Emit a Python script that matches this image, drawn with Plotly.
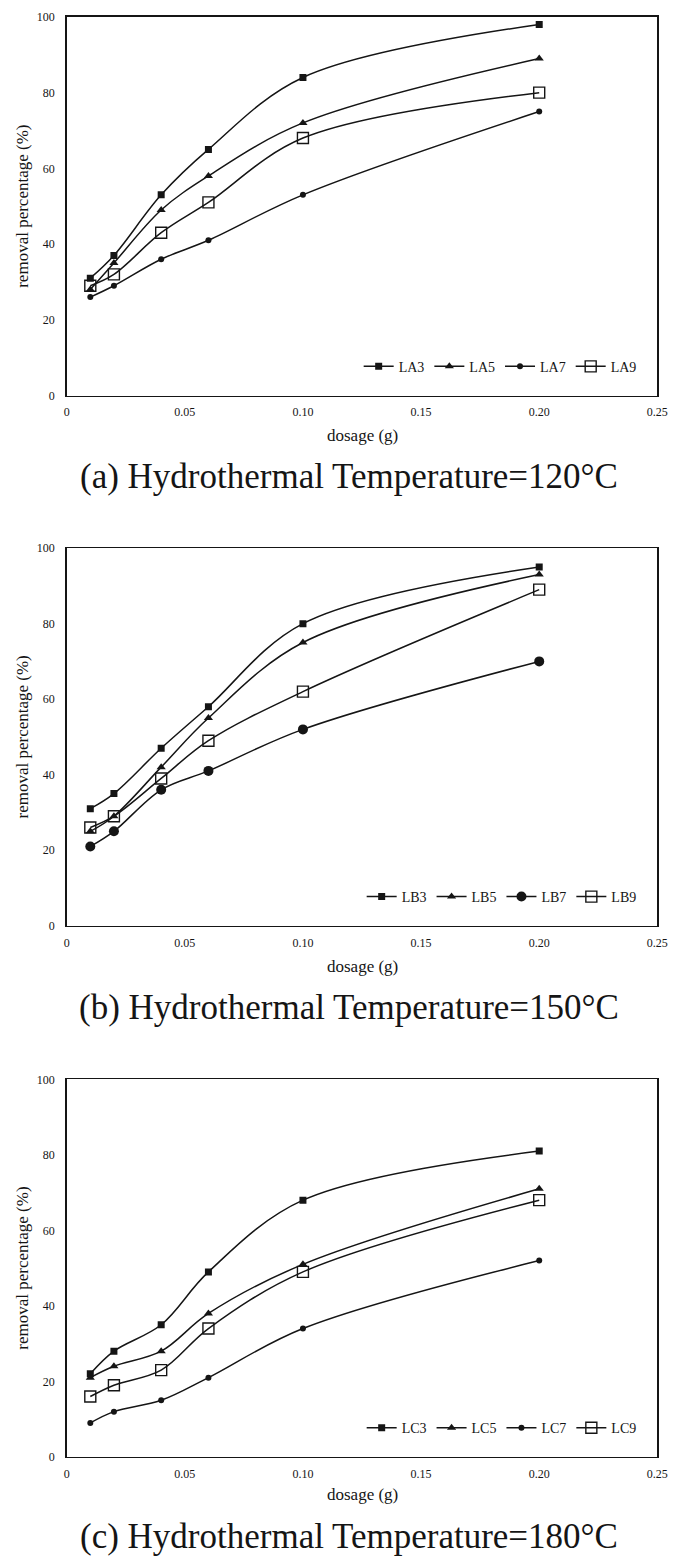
import plotly.graph_objects as go

# ---- data ----
dosage = [0.01, 0.02, 0.04, 0.06, 0.10, 0.20]

LA3 = [31, 37, 53, 65, 84, 98]
LA5 = [28, 35, 49, 58, 72, 89]
LA7 = [26, 29, 36, 41, 53, 75]
LA9 = [29, 32, 43, 51, 68, 80]

LB3 = [31, 35, 47, 58, 80, 95]
LB5 = [25, 29, 42, 55, 75, 93]
LB7 = [21, 25, 36, 41, 52, 70]
LB9 = [26, 29, 39, 49, 62, 89]

LC3 = [22, 28, 35, 49, 68, 81]
LC5 = [21, 24, 28, 38, 51, 71]
LC7 = [9, 12, 15, 21, 34, 52]
LC9 = [16, 19, 23, 34, 49, 68]

x_tickvals = [0, 0.05, 0.10, 0.15, 0.20, 0.25]
x_ticktext = ["0", "0.05", "0.10", "0.15", "0.20", "0.25"]
y_tickvals = [0, 20, 40, 60, 80, 100]

captions = ["(a) Hydrothermal Temperature=120°C",
            "(b) Hydrothermal Temperature=150°C",
            "(c) Hydrothermal Temperature=180°C"]

panels = [
    [("LA3", LA3), ("LA5", LA5), ("LA7", LA7), ("LA9", LA9)],
    [("LB3", LB3), ("LB5", LB5), ("LB7", LB7), ("LB9", LB9)],
    [("LC3", LC3), ("LC5", LC5), ("LC7", LC7), ("LC9", LC9)],
]

# ---- layout geometry (pixels) ----
W, H = 685, 1568
FONT = "Liberation Serif, Times New Roman, serif"
INK = "#151515"
x_left, x_right = 65, 668
panel_px = [(10, 392), (546, 927), (1082, 1463)]
xtitle_px = [432, 968, 1501]
caption_px = [474, 1010, 1543]
legend_px = [363, 898, 1434]

circle_sizes = [6, 10, 6]


def py(p):
    return 1 - p / H


fig = go.Figure()

for i, series in enumerate(panels):
    xa = "x" if i == 0 else f"x{i+1}"
    ya = "y" if i == 0 else f"y{i+1}"
    lg = "legend" if i == 0 else f"legend{i+1}"
    styles = [
        dict(symbol="square", size=7, color=INK),
        dict(symbol="triangle-up", size=8, color=INK),
        dict(symbol="circle", size=circle_sizes[i], color=INK),
        dict(symbol="square-open", size=11, color=INK, line=dict(width=1.4, color=INK)),
    ]
    for (name, vals), mk in zip(series, styles):
        fig.add_trace(go.Scatter(
            x=dosage, y=vals, name=name, mode="lines+markers",
            line=dict(color=INK, width=1.5, shape="spline"),
            marker=mk, xaxis=xa, yaxis=ya, legend=lg,
        ))

    top, bot = panel_px[i]
    axkw = dict(showline=True, linecolor=INK, linewidth=1.5, mirror=True,
                showgrid=False, zeroline=False, ticks="",
                tickfont=dict(family=FONT, size=12, color=INK))
    fig.update_layout(**{
        ("xaxis" if i == 0 else f"xaxis{i+1}"): dict(
            domain=[x_left / W, x_right / W], range=[0, 0.25],
            tickvals=x_tickvals, ticktext=x_ticktext,
            anchor=ya, ticklabelstandoff=5, **axkw),
        ("yaxis" if i == 0 else f"yaxis{i+1}"): dict(
            domain=[py(bot), py(top)], range=[0, 100],
            tickvals=y_tickvals, anchor=xa, ticklabelstandoff=8, **axkw),
        lg: dict(orientation="h", x=652 / W, xanchor="right",
                 y=py(legend_px[i]), yanchor="middle", xref="paper", yref="paper",
                 font=dict(family=FONT, size=14, color=INK),
                 itemwidth=30, bgcolor="rgba(0,0,0,0)", tracegroupgap=0),
    })

    # y-axis title
    fig.add_annotation(x=20 / W, y=py((top + bot) / 2), xref="paper", yref="paper",
                       text="removal percentage (%)", textangle=-90, showarrow=False,
                       font=dict(family=FONT, size=17, color=INK),
                       xanchor="center", yanchor="middle")
    # x-axis title
    fig.add_annotation(x=367 / W, y=py(xtitle_px[i]),
                       xref="paper", yref="paper", text="dosage (g)", showarrow=False,
                       font=dict(family=FONT, size=17, color=INK),
                       xanchor="center", yanchor="middle")
    # caption
    fig.add_annotation(x=353 / W, y=py(caption_px[i]), xref="paper", yref="paper",
                       text=captions[i], showarrow=False,
                       font=dict(family=FONT, size=35, color=INK),
                       xanchor="center", yanchor="middle")

fig.update_layout(width=W, height=H, margin=dict(l=0, r=0, t=0, b=0),
                  paper_bgcolor="white", plot_bgcolor="white", showlegend=True)

fig.write_html(
    "out.html",
    config={"displayModeBar": False, "staticPlot": True},
    post_script=(
        "document.documentElement.style.margin='0';"
        "document.documentElement.style.overflow='hidden';"
        "document.body.style.margin='0';document.body.style.overflow='hidden';"
        "var d=document.getElementById('{plot_id}');"
        "d.style.position='fixed';d.style.left='0px';d.style.top='0px';"
    ),
)
